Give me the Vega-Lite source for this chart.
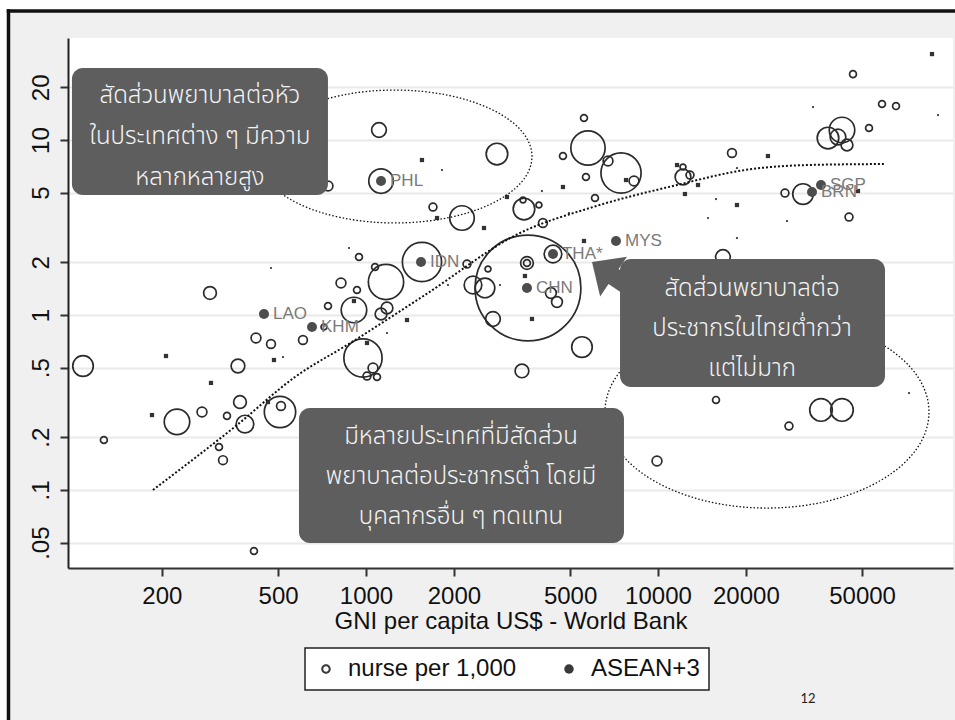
{
  "$schema": "https://vega.github.io/schema/vega-lite/v6.json",
  "width": 885,
  "height": 530,
  "autosize": {"type": "none"},
  "padding": {"left": 68, "top": 38, "right": 2, "bottom": 152},
  "background": "#f0f0f0",
  "config": {
    "view": {"fill": "white", "stroke": null},
    "font": "Liberation Sans",
    "legend": {"strokeWidth": 1.5}
  },
  "datasets": {
    "countries": [
      {"gni":107.4,"nurse":0.511,"pop":50.3},{"gni":126.6,"nurse":0.193,"pop":5.6},{"gni":225.3,"nurse":0.245,"pop":77.1},
      {"gni":274.4,"nurse":0.279,"pop":11.4},{"gni":334.2,"nurse":0.265,"pop":5.6},{"gni":292.3,"nurse":1.336,"pop":19.3},
      {"gni":364.4,"nurse":0.511,"pop":22.3},{"gni":370.3,"nurse":0.318,"pop":19.3},{"gni":385.1,"nurse":0.238,"pop":36.9},
      {"gni":313.8,"nurse":0.176,"pop":5.6},{"gni":323.8,"nurse":0.148,"pop":9.2},{"gni":413.4,"nurse":0.0448,"pop":5.6},
      {"gni":420.1,"nurse":0.739,"pop":11.4},{"gni":472.8,"nurse":0.683,"pop":9.2},{"gni":507.6,"nurse":0.279,"pop":116.7},
      {"gni":511.6,"nurse":0.302,"pop":9.2},{"gni":608.4,"nurse":0.72,"pop":9.2},{"gni":741.2,"nurse":1.126,"pop":5.6},
      {"gni":718.1,"nurse":0.854,"pop":4.1},{"gni":741.2,"nurse":5.461,"pop":11.4},{"gni":909.6,"nurse":1.068,"pop":77.1},
      {"gni":1126,"nurse":1.013,"pop":16.4},{"gni":1180,"nurse":1.096,"pop":16.4},{"gni":821.2,"nurse":1.523,"pop":11.4},
      {"gni":931.6,"nurse":1.389,"pop":5.6},{"gni":1074,"nurse":1.881,"pop":5.6},{"gni":1171,"nurse":1.544,"pop":147.7},
      {"gni":976.6,"nurse":0.568,"pop":173.4},{"gni":1057,"nurse":0.498,"pop":11.4},{"gni":1008,"nurse":0.448,"pop":7.3},
      {"gni":1091,"nurse":0.442,"pop":5.6},{"gni":1108,"nurse":11.41,"pop":25.7},{"gni":1126,"nurse":5.83,"pop":71.3},
      {"gni":1696,"nurse":4.141,"pop":7.3},{"gni":2132,"nurse":3.584,"pop":71.3},{"gni":2809,"nurse":8.318,"pop":55.2},
      {"gni":946.3,"nurse":2.145,"pop":5.6},{"gni":1555,"nurse":2.009,"pop":182.4},{"gni":2218,"nurse":1.956,"pop":7.3},
      {"gni":2325,"nurse":1.484,"pop":36.9},{"gni":2556,"nurse":1.427,"pop":45.6},{"gni":2617,"nurse":1.832,"pop":4.1},
      {"gni":3476,"nurse":4.034,"pop":55.2},{"gni":3449,"nurse":4.541,"pop":4.1},{"gni":3911,"nurse":4.251,"pop":4.1},
      {"gni":4036,"nurse":3.355,"pop":9.2},{"gni":5579,"nurse":13.36,"pop":5.6},{"gni":5758,"nurse":9.0,"pop":139.7},
      {"gni":4727,"nurse":8.102,"pop":5.6},{"gni":6743,"nurse":7.586,"pop":11.4},{"gni":7472,"nurse":6.477,"pop":191.6},
      {"gni":8276,"nurse":5.83,"pop":11.4},{"gni":5667,"nurse":6.147,"pop":5.6},{"gni":6085,"nurse":4.662,"pop":5.6},
      {"gni":4369,"nurse":2.231,"pop":36.9},{"gni":3559,"nurse":1.982,"pop":19.3},{"gni":3559,"nurse":1.982,"pop":5.6},
      {"gni":3587,"nurse":1.427,"pop":1330},{"gni":4298,"nurse":1.336,"pop":13.8},{"gni":4509,"nurse":1.187,"pop":13.8},
      {"gni":2722,"nurse":0.949,"pop":25.7},{"gni":5491,"nurse":0.656,"pop":50.3},{"gni":3421,"nurse":0.479,"pop":22.3},
      {"gni":12180,"nurse":6.147,"pop":29.2},{"gni":12870,"nurse":6.31,"pop":7.3},{"gni":12180,"nurse":7.01,"pop":4.1},
      {"gni":17920,"nurse":8.427,"pop":9.2},{"gni":16690,"nurse":2.145,"pop":25.7},{"gni":27220,"nurse":4.979,"pop":7.3},
      {"gni":31380,"nurse":4.914,"pop":50.3},{"gni":45100,"nurse":3.631,"pop":7.3},{"gni":46540,"nurse":23.8,"pop":5.6},
      {"gni":58510,"nurse":16.06,"pop":5.6},{"gni":65330,"nurse":15.64,"pop":5.6},{"gni":52800,"nurse":11.71,"pop":5.6},
      {"gni":42670,"nurse":11.41,"pop":77.1},{"gni":38210,"nurse":10.27,"pop":55.2},{"gni":41340,"nurse":10.4,"pop":29.2},
      {"gni":44390,"nurse":9.364,"pop":16.4},{"gni":15800,"nurse":0.327,"pop":5.6},{"gni":28090,"nurse":0.232,"pop":7.3},
      {"gni":36160,"nurse":0.2865,"pop":60.3},{"gni":42670,"nurse":0.2865,"pop":60.3},{"gni":9922,"nurse":0.1464,"pop":11.4},
      {"gni":1555,"nurse":7.687,"pop":1.2},{"gni":1751,"nurse":3.584,"pop":1.2},{"gni":3040,"nurse":4.724,"pop":1.2},
      {"gni":2536,"nurse":3.142,"pop":1.2},{"gni":4727,"nurse":5.389,"pop":1.2},{"gni":7772,"nurse":5.907,"pop":1.2},
      {"gni":5579,"nurse":2.648,"pop":1.2},{"gni":11620,"nurse":7.196,"pop":1.2},{"gni":13710,"nurse":5.533,"pop":1.2},
      {"gni":12370,"nurse":4.914,"pop":1.2},{"gni":18640,"nurse":4.251,"pop":1.2},{"gni":23800,"nurse":8.102,"pop":1.2},
      {"gni":86780,"nurse":31.0,"pop":1.2},{"gni":206.6,"nurse":0.583,"pop":1.2},{"gni":294.6,"nurse":0.409,"pop":1.2},
      {"gni":185.0,"nurse":0.268,"pop":1.2},{"gni":461.7,"nurse":0.318,"pop":1.2},{"gni":484.1,"nurse":0.553,"pop":1.2},
      {"gni":909.6,"nurse":1.202,"pop":1.2},{"gni":1008,"nurse":0.692,"pop":1.2},{"gni":1382,"nurse":0.936,"pop":1.2},
      {"gni":3702,"nurse":0.949,"pop":1.2},{"gni":3503,"nurse":1.671,"pop":1.2},{"gni":48410,"nurse":5.112,"pop":1.2},
      {"gni":472.8,"nurse":1.856,"pop":0.2},{"gni":1821,"nurse":6.741,"pop":0.2},{"gni":874.5,"nurse":2.415,"pop":0.2},
      {"gni":519.8,"nurse":0.575,"pop":0.2},{"gni":1180,"nurse":0.789,"pop":0.2},{"gni":2876,"nurse":1.484,"pop":0.2},
      {"gni":1909,"nurse":1.484,"pop":0.2},{"gni":4004,"nurse":5.112,"pop":0.2},{"gni":4956,"nurse":3.827,"pop":0.2},
      {"gni":18640,"nurse":6.918,"pop":0.2},{"gni":15800,"nurse":4.601,"pop":0.2},{"gni":14840,"nurse":3.584,"pop":0.2},
      {"gni":27660,"nurse":3.444,"pop":0.2},{"gni":18640,"nurse":2.754,"pop":0.2},{"gni":33960,"nurse":15.44,"pop":0.2},
      {"gni":90980,"nurse":13.9,"pop":0.2},{"gni":72390,"nurse":0.358,"pop":0.2}
    ],
    "asean": [
      {"iso":"PHL","gni":1126,"nurse":5.83},{"iso":"IDN","gni":1543,"nurse":2.009},{"iso":"LAO","gni":447.4,"nurse":1.013},
      {"iso":"KHM","gni":653.4,"nurse":0.854},{"iso":"THA*","gni":4369,"nurse":2.231},{"iso":"MYS","gni":7181,"nurse":2.648},
      {"iso":"CHN","gni":3559,"nurse":1.427},{"iso":"SGP","gni":36160,"nurse":5.533},{"iso":"BRN","gni":33690,"nurse":5.045}
    ],
    "trend": [
      {"gni":186.4,"nurse":0.1},{"gni":361.5,"nurse":0.235},{"gni":571.2,"nurse":0.442},{"gni":895.7,"nurse":0.701},
      {"gni":1592,"nurse":1.301},{"gni":3369,"nurse":2.942},{"gni":5991,"nurse":4.141},{"gni":11620,"nurse":5.533},
      {"gni":19860,"nurse":6.741},{"gni":32380,"nurse":7.196},{"gni":59430,"nurse":7.293}
    ]
  },
  "layer": [
    {
      "data": {"name": "countries"},
      "transform": [{"filter": "datum.pop >= 3"}],
      "mark": {"type": "point", "shape": "circle", "filled": false, "strokeWidth": 1.7, "color": "#2b2b2b", "opacity": 1},
      "encoding": {
        "x": {
          "field": "gni", "type": "quantitative",
          "scale": {"type": "log", "domain": [95.4, 102400], "nice": false, "zero": false},
          "axis": {
            "values": [200, 500, 1000, 2000, 5000, 10000, 20000, 50000],
            "format": "d", "grid": false,
            "title": "GNI per capita US$ - World Bank",
            "titleFont": "Liberation Sans", "titleFontSize": 24, "titleFontWeight": "normal", "titleColor": "#111",
            "titleBaseline": "alphabetic", "titleY": 60,
            "labelFont": "Liberation Sans", "labelFontSize": 24, "labelColor": "#111", "labelPadding": 8,
            "labelFlush": false, "labelOverlap": false,
            "tickSize": 8, "tickWidth": 2, "tickColor": "#333", "domainColor": "#333", "domainWidth": 2
          }
        },
        "y": {
          "field": "nurse", "type": "quantitative",
          "scale": {"type": "log", "domain": [0.0358, 38.3], "nice": false, "zero": false},
          "axis": {
            "values": [0.05, 0.1, 0.2, 0.5, 1, 2, 5, 10, 20],
            "labelExpr": "replace(format(datum.value, '~g'), '0.', '.')",
            "title": null, "grid": true, "gridColor": "#e9e9e9", "gridWidth": 2,
            "labelAngle": -90, "labelAlign": "center", "labelBaseline": "alphabetic",
            "labelFont": "Liberation Sans", "labelFontSize": 24, "labelColor": "#111", "labelPadding": 12,
            "labelFlush": false, "labelOverlap": false,
            "tickSize": 8, "tickWidth": 2, "tickColor": "#333", "domainColor": "#222", "domainWidth": 2
          }
        },
        "size": {"field": "pop", "type": "quantitative", "scale": {"type": "linear", "domain": [0, 1330], "range": [0, 11200]}, "legend": null}
      }
    },
    {
      "data": {"name": "countries"},
      "transform": [{"filter": "datum.pop >= 0.5 && datum.pop < 3"}],
      "mark": {"type": "point", "shape": "square", "filled": true, "size": 18, "color": "#333", "opacity": 1},
      "encoding": {"x": {"field": "gni", "type": "quantitative"}, "y": {"field": "nurse", "type": "quantitative"}}
    },
    {
      "data": {"name": "countries"},
      "transform": [{"filter": "datum.pop < 0.5"}],
      "mark": {"type": "point", "shape": "circle", "filled": true, "size": 5, "color": "#333", "opacity": 1},
      "encoding": {"x": {"field": "gni", "type": "quantitative"}, "y": {"field": "nurse", "type": "quantitative"}}
    },
    {
      "data": {"name": "asean"},
      "mark": {"type": "point", "shape": "circle", "filled": true, "size": 100, "color": "#4d4d4d", "opacity": 1},
      "encoding": {"x": {"field": "gni", "type": "quantitative"}, "y": {"field": "nurse", "type": "quantitative"}}
    },
    {
      "data": {"values": []},
      "mark": {"type": "point", "filled": true, "color": "#3a3a3a", "opacity": 1},
      "encoding": {
        "x": {"datum": 1000, "type": "quantitative"}, "y": {"datum": 1, "type": "quantitative"},
        "shape": {
          "datum": "nurse per 1,000", "type": "nominal",
          "scale": {"domain": ["nurse per 1,000", "ASEAN+3"], "range": ["M-1,0 A1,1 0 1,1 1,0 A1,1 0 1,1 -1,0 Z M-0.58,0 A0.58,0.58 0 1,0 0.58,0 A0.58,0.58 0 1,0 -0.58,0 Z", "circle"]},
          "legend": {
            "title": null, "orient": "none", "legendX": 237, "legendY": 610, "direction": "horizontal",
            "padding": 9, "strokeColor": "#222", "fillColor": "white", "labelLimit": 0,
            "labelFont": "Liberation Sans", "labelFontSize": 24, "labelColor": "#111",
            "symbolSize": 90, "symbolStrokeWidth": 0, "symbolFillColor": "#3a3a3a", "symbolOpacity": 1,
            "labelOffset": 10, "columnPadding": 40
          }
        }
      }
    },
    {
      "data": {"name": "asean"},
      "mark": {"type": "text", "align": "left", "baseline": "middle", "dx": 9, "fontSize": 17, "color": "#7a7a7a", "font": "Liberation Sans"},
      "encoding": {"x": {"field": "gni", "type": "quantitative"}, "y": {"field": "nurse", "type": "quantitative"}, "text": {"field": "iso"}}
    },
    {
      "data": {"name": "trend"},
      "mark": {"type": "line", "interpolate": "monotone", "strokeDash": [2, 2], "strokeWidth": 2, "color": "#111"},
      "encoding": {"x": {"field": "gni", "type": "quantitative"}, "y": {"field": "nurse", "type": "quantitative"}}
    },
    {
      "data": {"values": [{}]},
      "mark": {"type": "rule", "color": "white", "strokeWidth": 20, "clip": false},
      "encoding": {"x": {"datum": 54.5, "type": "quantitative"}, "y": {"datum": 63.1, "type": "quantitative"}, "y2": {"datum": 0.0017}}
    },
    {
      "data": {"values": [{}]},
      "mark": {"type": "rule", "color": "white", "strokeWidth": 20, "clip": false},
      "encoding": {"x": {"datum": 40, "type": "quantitative"}, "x2": {"datum": 326000}, "y": {"datum": 63.1, "type": "quantitative"}}
    },
    {
      "data": {"values": [{}]},
      "mark": {"type": "rule", "color": "#111", "strokeWidth": 3.5, "strokeCap": "square", "clip": false},
      "encoding": {"x": {"datum": 59.67, "type": "quantitative"}, "y": {"datum": 54.6, "type": "quantitative"}, "y2": {"datum": 0.0017}}
    },
    {
      "data": {"values": [{}]},
      "mark": {"type": "rule", "color": "#111", "strokeWidth": 3.5, "strokeCap": "square", "clip": false},
      "encoding": {"x": {"datum": 59.67, "type": "quantitative"}, "x2": {"datum": 326000}, "y": {"datum": 54.6, "type": "quantitative"}}
    },
    {
      "data": {"values": [{}]},
      "mark": {"type": "point", "shape": "M-1,0 A1,0.485 0 1,0 1,0 A1,0.485 0 1,0 -1,0 Z", "filled": false, "size": 75076, "strokeWidth": 1.3, "strokeDash": [1.5, 2], "color": "#111", "opacity": 1, "clip": false},
      "encoding": {"x": {"datum": 1257, "type": "quantitative"}, "y": {"datum": 8.05, "type": "quantitative"}}
    },
    {
      "data": {"values": [{}]},
      "mark": {"type": "point", "shape": "M-1,0 A1,0.593 0 1,0 1,0 A1,0.593 0 1,0 -1,0 Z", "filled": false, "size": 104976, "strokeWidth": 1.3, "strokeDash": [1.5, 2], "color": "#111", "opacity": 1, "clip": false},
      "encoding": {"x": {"datum": 23620, "type": "quantitative"}, "y": {"datum": 0.279, "type": "quantitative"}}
    },
    {
      "data": {"values": [{}]},
      "mark": {"type": "point", "shape": "M-0.913,-0.593 L0.253,-0.772 L-0.027,-0.358 L0.912,0.276 L0.577,0.773 L-0.362,0.140 L-0.642,0.554 Z", "filled": true, "size": 3600, "color": "#5e5e5e", "opacity": 1},
      "encoding": {"x": {"datum": 7377, "type": "quantitative"}, "y": {"datum": 1.589, "type": "quantitative"}}
    },
    {
      "data": {"values": [{}]},
      "mark": {"type": "rect", "color": "#5e5e5e", "cornerRadius": 11, "opacity": 1},
      "encoding": {"x": {"datum": 98.4, "type": "quantitative"}, "x2": {"datum": 741}, "y": {"datum": 25.8, "type": "quantitative"}, "y2": {"datum": 4.85}}
    },
    {
      "data": {"values": [{}]},
      "mark": {"type": "rect", "color": "#5e5e5e", "cornerRadius": 11, "opacity": 1},
      "encoding": {"x": {"datum": 7413, "type": "quantitative"}, "x2": {"datum": 59900}, "y": {"datum": 2.089, "type": "quantitative"}, "y2": {"datum": 0.388}}
    },
    {
      "data": {"values": [{}]},
      "mark": {"type": "rect", "color": "#5e5e5e", "cornerRadius": 11, "opacity": 1},
      "encoding": {"x": {"datum": 589.6, "type": "quantitative"}, "x2": {"datum": 7648}, "y": {"datum": 0.294, "type": "quantitative"}, "y2": {"datum": 0.0498}}
    },
    {
      "data": {"values": [{}]},
      "mark": {"type": "text", "text": ["สัดส่วนพยาบาลต่อหัว", "ในประเทศต่าง ๆ มีความ", "หลากหลายสูง"], "align": "center", "baseline": "middle", "lineHeight": 41, "fontSize": 24, "fontWeight": 300, "color": "#f4f4f4", "font": "Noto Sans Thai, Noto Sans, sans-serif"},
      "encoding": {"x": {"datum": 270, "type": "quantitative"}, "y": {"datum": 17.84, "type": "quantitative"}}
    },
    {
      "data": {"values": [{}]},
      "mark": {"type": "text", "text": ["สัดส่วนพยาบาลต่อ", "ประชากรในไทยต่ำกว่า", "แต่ไม่มาก"], "align": "center", "baseline": "middle", "lineHeight": 40, "fontSize": 24, "fontWeight": 300, "color": "#f4f4f4", "font": "Noto Sans Thai, Noto Sans, sans-serif"},
      "encoding": {"x": {"datum": 20990, "type": "quantitative"}, "y": {"datum": 1.408, "type": "quantitative"}}
    },
    {
      "data": {"values": [{}]},
      "mark": {"type": "text", "text": ["มีหลายประเทศที่มีสัดส่วน", "พยาบาลต่อประชากรต่ำ โดยมี", "บุคลากรอื่น ๆ ทดแทน"], "align": "center", "baseline": "middle", "lineHeight": 40, "fontSize": 24, "fontWeight": 300, "color": "#f4f4f4", "font": "Noto Sans Thai, Noto Sans, sans-serif"},
      "encoding": {"x": {"datum": 2115, "type": "quantitative"}, "y": {"datum": 0.2009, "type": "quantitative"}}
    },
    {
      "data": {"values": [{}]},
      "mark": {"type": "text", "text": "12", "align": "center", "baseline": "alphabetic", "fontSize": 13, "color": "#222", "font": "Lato", "clip": false},
      "encoding": {"x": {"datum": 32640, "type": "quantitative"}, "y": {"datum": 0.00607, "type": "quantitative"}}
    }
  ]
}
